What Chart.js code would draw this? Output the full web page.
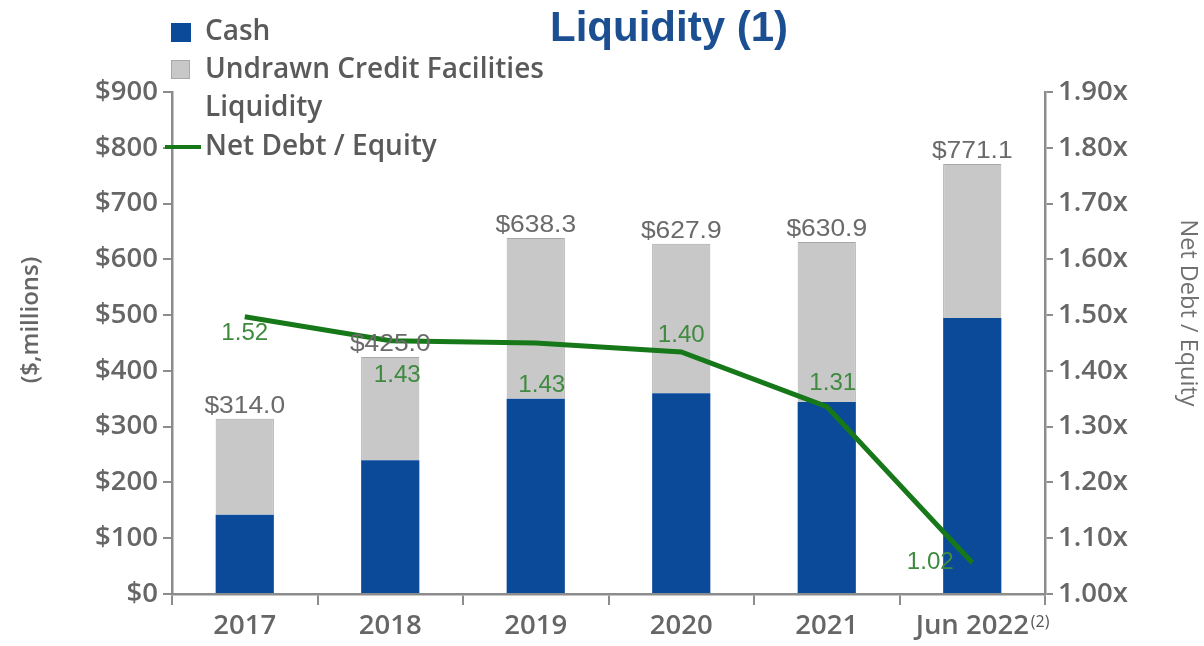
<!DOCTYPE html>
<html><head><meta charset="utf-8">
<script src="https://cdn.jsdelivr.net/npm/chart.js@4.4.1/dist/chart.umd.min.js"></script>
<style>html,body{margin:0;padding:0;background:#fff}#wrap{width:1204px;height:646px;position:relative}</style>
</head><body><div id="wrap"><canvas id="c" width="1204" height="646"></canvas></div>
<script>
// ---- data ----
const categories = ['2017', '2018', '2019', '2020', '2021', 'Jun 2022'];
const cash = [142, 240, 350, 360, 344, 495];
const undrawn = [172.0, 185.0, 288.3, 267.9, 286.9, 276.1];
const liquidity = [314.0, 425.0, 638.3, 627.9, 630.9, 771.1];
const netDebtEquity = [1.497, 1.454, 1.450, 1.434, 1.336, 1.056];
const netDebtEquityLabels = ['1.52', '1.43', '1.43', '1.40', '1.31', '1.02'];
const leftTickValues = [0, 100, 200, 300, 400, 500, 600, 700, 800, 900];
const rightTickValues = [1.0, 1.1, 1.2, 1.3, 1.4, 1.5, 1.6, 1.7, 1.8, 1.9];
const xSuperscript = ['', '', '', '', '', '(2)'];

// ---- styles ----
const BLUE = '#0a4a98', GREY = '#c8c8c8', GREEN = '#17781a', AXIS = '#8c8c8c';
const TICK_FONT = {family: '"Open Sans"', size: 27.5, weight: '600'};
const lineLabelOffsets = [{dx:0,dy:17},{dx:7,dy:35},{dx:6,dy:43},{dx:0,dy:-16},{dx:6,dy:-23},{dx:-42,dy:0}];

function stretchedText(ctx, text, x, y, sx) {
  ctx.save(); ctx.translate(x, y); ctx.scale(sx, 1); ctx.fillText(text, 0, 0); ctx.restore();
}

const extras = {
  id: 'extras',
  afterDatasetsDraw(chart) {
    const ctx = chart.ctx;
    const topMeta = chart.getDatasetMeta(1);
    ctx.save();
    ctx.font = '24px "Liberation Sans"';
    ctx.fillStyle = '#6a6a6a';
    ctx.textAlign = 'center'; ctx.textBaseline = 'alphabetic';
    topMeta.data.forEach((el, i) => {
      stretchedText(ctx, '$' + liquidity[i].toFixed(1), el.x, el.y - 6, 1.1);
    });
    const lm = chart.getDatasetMeta(2);
    ctx.font = '23px "Liberation Sans"';
    ctx.fillStyle = '#3f8a3f';
    ctx.textBaseline = 'middle';
    lm.data.forEach((el, i) => {
      const o = lineLabelOffsets[i];
      stretchedText(ctx, netDebtEquityLabels[i], el.x + o.dx, el.y + o.dy, 1.05);
    });
    ctx.restore();
  },
  afterDraw(chart) {
    const ctx = chart.ctx;
    ctx.save();
    ctx.font = 'bold 42px "Liberation Sans"';
    ctx.fillStyle = '#1b4f91';
    ctx.textAlign = 'center'; ctx.textBaseline = 'middle';
    ctx.fillText('Liquidity (1)', 669, 29);
    ctx.font = '600 28px "Open Sans"';
    ctx.textAlign = 'left';
    ctx.fillStyle = BLUE; ctx.fillRect(171, 23, 20, 19);
    ctx.fillStyle = GREY; ctx.fillRect(171, 60, 19, 19);
    ctx.strokeStyle = '#a8a8a8'; ctx.lineWidth = 1; ctx.strokeRect(171.5, 60.5, 18, 18);
    ctx.strokeStyle = GREEN; ctx.lineWidth = 4;
    ctx.beginPath(); ctx.moveTo(165, 147); ctx.lineTo(201, 147); ctx.stroke();
    ctx.fillStyle = '#5a5a5a';
    ctx.fillText('Cash', 205, 32);
    ctx.fillText('Undrawn Credit Facilities', 205, 70);
    ctx.fillText('Liquidity', 205, 108);
    ctx.fillText('Net Debt / Equity', 205, 147);
    ctx.save();
    ctx.translate(31, 320); ctx.rotate(-Math.PI / 2);
    ctx.font = '600 24px "Open Sans"'; ctx.fillStyle = '#666'; ctx.textAlign = 'center';
    ctx.fillText('($,millions)', 0, 0);
    ctx.restore();
    ctx.save();
    ctx.translate(1188, 313); ctx.rotate(Math.PI / 2);
    ctx.font = '23.5px "Open Sans"'; ctx.fillStyle = '#707070'; ctx.textAlign = 'center';
    ctx.fillText('Net Debt / Equity', 0, 0);
    ctx.restore();
    const xs = chart.scales.x;
    xSuperscript.forEach((s, i) => {
      if (!s) return;
      ctx.font = '600 27.5px "Open Sans"';
      const w = ctx.measureText(categories[i]).width;
      const cx = xs.getPixelForTick(i);
      ctx.font = '16px "Open Sans"'; ctx.fillStyle = '#555'; ctx.textAlign = 'left';
      ctx.fillText(s, cx + w / 2 + 2, 622);
    });
    ctx.restore();
  }
};

function draw() {
  new Chart(document.getElementById('c'), {
    data: {
      labels: categories,
      datasets: [
        {type: 'bar', label: 'Cash', data: cash, backgroundColor: BLUE, borderWidth: 0,
         barPercentage: 0.4, categoryPercentage: 1.0, order: 2, yAxisID: 'y'},
        {type: 'bar', label: 'Undrawn Credit Facilities', data: undrawn, backgroundColor: GREY,
         borderColor: '#a8a8a8', borderWidth: 1, barPercentage: 0.4, categoryPercentage: 1.0, order: 2, yAxisID: 'y'},
        {type: 'line', label: 'Net Debt / Equity', data: netDebtEquity, borderColor: GREEN, borderWidth: 5,
         pointRadius: 0, tension: 0, order: 0, yAxisID: 'y1', fill: false}
      ]
    },
    options: {
      responsive: false, animation: false, devicePixelRatio: 1,
      layout: {padding: {top: 92, left: 0, right: 0, bottom: 0}},
      plugins: {legend: {display: false}, title: {display: false}, tooltip: {enabled: false}},
      scales: {
        x: {
          stacked: true,
          grid: {display: true, drawOnChartArea: false, drawTicks: true, tickLength: 11, color: AXIS, lineWidth: 2, offset: true},
          border: {color: AXIS, width: 2.5},
          ticks: {font: TICK_FONT, color: '#666', padding: 5, maxRotation: 0},
          afterFit(s) { s.height = 52; }
        },
        y: {
          position: 'left', stacked: true, min: leftTickValues[0], max: leftTickValues[leftTickValues.length - 1],
          afterBuildTicks(s) { s.ticks = leftTickValues.map(v => ({value: v})); },
          ticks: {font: TICK_FONT, color: '#666', padding: 5, callback: v => '$' + v},
          grid: {drawOnChartArea: false, drawTicks: true, tickLength: 9, color: AXIS, lineWidth: 2},
          border: {color: AXIS, width: 2.5},
          afterFit(s) { s.width = 172; }
        },
        y1: {
          position: 'right', stacked: false, min: rightTickValues[0], max: rightTickValues[rightTickValues.length - 1],
          afterBuildTicks(s) { s.ticks = rightTickValues.map(v => ({value: v})); },
          ticks: {font: TICK_FONT, color: '#666', padding: 5, callback: v => Number(v).toFixed(2) + 'x'},
          grid: {drawOnChartArea: false, drawTicks: true, tickLength: 8, color: AXIS, lineWidth: 2},
          border: {color: AXIS, width: 2.5},
          afterFit(s) { s.width = 159; }
        }
      }
    },
    plugins: [extras]
  });
}
const fl = ['600 27.5px "Open Sans"', '23.5px "Open Sans"', 'bold 42px "Liberation Sans"', '24px "Liberation Sans"'];
Promise.all(fl.map(f => document.fonts.load(f))).then(draw, draw);
</script>
</body></html>
